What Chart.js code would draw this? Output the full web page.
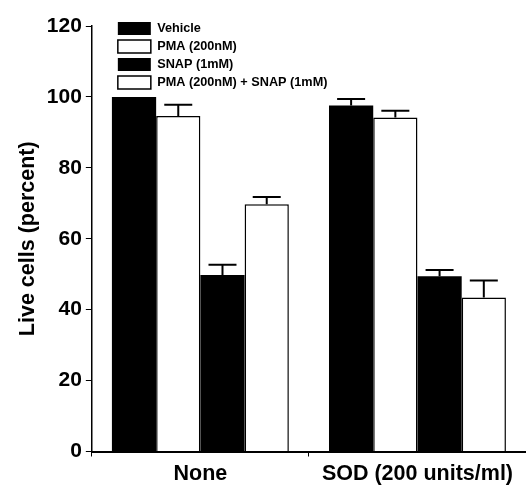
<!DOCTYPE html>
<html>
<head>
<meta charset="utf-8">
<script src="https://cdn.jsdelivr.net/npm/chart.js@4"></script>
<style>
  html, body { margin: 0; padding: 0; background: #fff; }
  #wrap { width: 526px; height: 488px; }
</style>
</head>
<body>
<div id="wrap"><canvas id="liveChart"></canvas></div>
<script>
const groups = ['None', 'SOD (200 units/ml)'];
const seriesNames = ['Vehicle', 'PMA (200nM)', 'SNAP (1mM)', 'PMA (200nM) + SNAP (1mM)'];
const vehicle = [100, 97.6];
const pma = [94.6, 94.2];
const snap = [49.8, 49.4];
const pmaSnap = [69.7, 43.4];
const vehicleErr = [0, 1.8];
const pmaErr = [3.2, 1.9];
const snapErr = [2.9, 1.8];
const pmaSnapErr = [2.1, 4.8];
const yTicks = [0, 20, 40, 60, 80, 100, 120];

const font = 'Liberation Sans, Arial, sans-serif';

// upper whiskers only, like the original figure
const errorBars = {
  id: 'errorBars',
  afterDatasetsDraw(chart) {
    const ctx = chart.ctx;
    const y = chart.scales.y;
    ctx.save();
    ctx.strokeStyle = '#000';
    ctx.lineWidth = 2;
    chart.data.datasets.forEach((ds, i) => {
      const meta = chart.getDatasetMeta(i);
      meta.data.forEach((bar, j) => {
        const err = ds.err[j];
        if (!err) return;
        const top = y.getPixelForValue(ds.data[j] + err);
        ctx.beginPath();
        ctx.moveTo(bar.x, bar.y);
        ctx.lineTo(bar.x, top);
        ctx.moveTo(bar.x - 14, top);
        ctx.lineTo(bar.x + 14, top);
        ctx.stroke();
      });
    });
    ctx.restore();
  }
};

// nudge the in-plot legend to where the figure has it
const legendShift = {
  id: 'legendShift',
  afterLayout(chart) {
    const lg = chart.legend;
    if (!lg) return;
    lg.left += 21; lg.right += 21;
    lg.top += 17; lg.bottom += 17;
  }
};

function bars(label, data, err, fill) {
  return {
    label: label,
    data: data,
    err: err,
    backgroundColor: fill,
    borderColor: '#000',
    borderWidth: fill === '#000' ? 0 : 1.5,
    barPercentage: 1.0,
    categoryPercentage: 0.815
  };
}

new Chart(document.getElementById('liveChart'), {
  type: 'bar',
  data: {
    labels: groups,
    datasets: [
      bars(seriesNames[0], vehicle, vehicleErr, '#000'),
      bars(seriesNames[1], pma, pmaErr, '#fff'),
      bars(seriesNames[2], snap, snapErr, '#000'),
      bars(seriesNames[3], pmaSnap, pmaSnapErr, '#fff')
    ]
  },
  options: {
    responsive: true,
    maintainAspectRatio: false,
    animation: false,
    layout: { padding: { top: 26, right: 0, bottom: -4, left: 15 } },
    scales: {
      x: {
        grid: { drawOnChartArea: false, color: '#000', tickLength: 5, offset: true },
        border: { color: '#000', width: 2 },
        ticks: { color: '#000', font: { family: font, size: 21.5, weight: 'bold', lineHeight: 1 }, padding: 7 }
      },
      y: {
        min: 0,
        max: 120,
        afterBuildTicks: axis => { axis.ticks = yTicks.map(v => ({ value: v })); },
        grid: { drawOnChartArea: false, color: '#000', tickLength: 6 },
        border: { color: '#000', width: 1.5 },
        ticks: { color: '#000', font: { family: font, size: 21, weight: 'bold' }, padding: 4 },
        title: {
          display: true,
          text: 'Live cells (percent)',
          color: '#000',
          font: { family: font, size: 21.5, weight: 'bold' },
          padding: { top: 0, bottom: 2 }
        }
      }
    },
    plugins: {
      legend: {
        position: 'chartArea',
        align: 'start',
        labels: {
          color: '#000',
          boxWidth: 33,
          boxHeight: 13,
          padding: 5,
          font: { family: font, size: 12.7, weight: 'bold' }
        }
      },
      tooltip: { enabled: false }
    }
  },
  plugins: [errorBars, legendShift]
});
</script>
</body>
</html>
